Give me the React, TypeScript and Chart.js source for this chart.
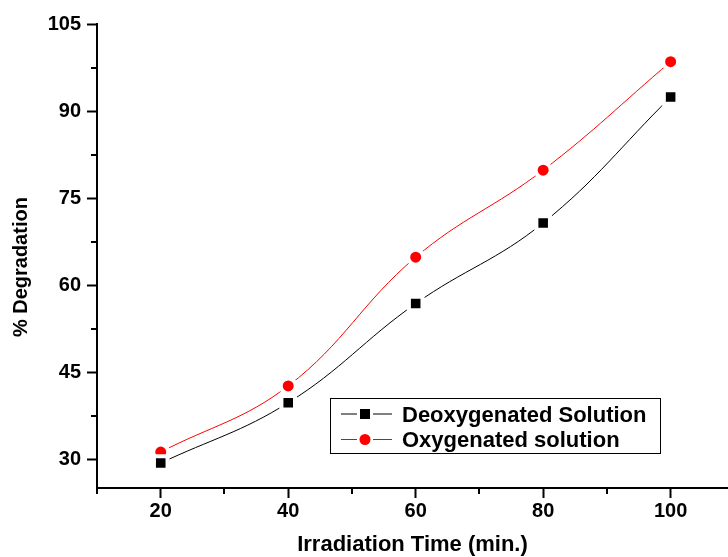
import { useEffect, useRef } from "react";
import { Chart, registerables } from "chart.js";

Chart.register(...registerables);

// ---- data ----
const irradiationTime = [20, 40, 60, 80, 100];
const deoxygenated = [29.3, 39.7, 56.8, 70.7, 92.4];
const oxygenated = [31.2, 42.6, 64.8, 79.8, 98.5];
const seriesNames = ["Deoxygenated Solution", "Oxygenated solution"];
const xMajorTicks = [20, 40, 60, 80, 100];
const xMinorTicks = [10, 30, 50, 70, 90];
const yMajorTicks = [30, 45, 60, 75, 90, 105];
const yMinorTicks = [37.5, 52.5, 67.5, 82.5, 97.5];

const FONT = "'Liberation Sans', Arial, Helvetica, sans-serif";

const minorTicksPlugin = {
  id: "minorTicks",
  afterDraw(chart: any) {
    const { ctx, scales } = chart;
    const xs = scales.x;
    const ys = scales.y;
    ctx.save();
    ctx.strokeStyle = "#000";
    ctx.lineWidth = 2;
    ctx.beginPath();
    for (const v of xMinorTicks) {
      const px = Math.round(xs.getPixelForValue(v));
      ctx.moveTo(px, ys.bottom);
      ctx.lineTo(px, ys.bottom + 6);
    }
    for (const v of yMinorTicks) {
      const py = Math.round(ys.getPixelForValue(v));
      ctx.moveTo(xs.left, py);
      ctx.lineTo(xs.left - 6, py);
    }
    ctx.stroke();
    ctx.restore();
  },
};

const boxLegendPlugin = {
  id: "boxLegend",
  afterDraw(chart: any) {
    const { ctx } = chart;
    const left = 330;
    const top = 398;
    const w = 330;
    const h = 55;
    ctx.save();
    ctx.fillStyle = "#fff";
    ctx.fillRect(left, top, w, h);
    ctx.strokeStyle = "#000";
    ctx.lineWidth = 1;
    ctx.strokeRect(left + 0.5, top + 0.5, w, h);
    const rows = [414, 439.5];
    chart.data.datasets.forEach((ds: any, i: number) => {
      const y = rows[i];
      const cx = 365;
      ctx.strokeStyle = ds.borderColor;
      ctx.lineWidth = 1;
      ctx.beginPath();
      ctx.moveTo(341, y);
      ctx.lineTo(cx - 8, y);
      ctx.moveTo(cx + 8, y);
      ctx.lineTo(392, y);
      ctx.stroke();
      ctx.fillStyle = ds.pointBackgroundColor;
      if (ds.pointStyle === "rect") {
        ctx.fillRect(cx - 5, y - 5, 10, 10);
      } else {
        ctx.beginPath();
        ctx.arc(cx, y, 5.5, 0, Math.PI * 2);
        ctx.fill();
      }
      ctx.fillStyle = "#000";
      ctx.font = `bold 22px ${FONT}`;
      ctx.textBaseline = "alphabetic";
      ctx.textAlign = "left";
      ctx.fillText(ds.label, 402, y + 7.5);
    });
    ctx.restore();
  },
};

export default function App() {
  const ref = useRef<HTMLCanvasElement | null>(null);

  useEffect(() => {
    if (!ref.current) return;
    const chart = new Chart(ref.current, {
      type: "line",
      data: {
        datasets: [
          {
            label: seriesNames[0],
            data: irradiationTime.map((x, i) => ({ x, y: deoxygenated[i] })),
            borderColor: "#000000",
            borderWidth: 1,
            pointStyle: "rect",
            pointRadius: 9.6,
            pointBackgroundColor: "#000000",
            pointBorderColor: "#ffffff",
            pointBorderWidth: 4,
            tension: 0.4,
            fill: false,
          },
          {
            label: seriesNames[1],
            data: irradiationTime.map((x, i) => ({ x, y: oxygenated[i] })),
            borderColor: "#ff0000",
            borderWidth: 1,
            pointStyle: "circle",
            pointRadius: 7.5,
            pointBackgroundColor: "#ff0000",
            pointBorderColor: "#ffffff",
            pointBorderWidth: 4,
            tension: 0.4,
            fill: false,
          },
        ],
      },
      options: {
        responsive: false,
        maintainAspectRatio: false,
        animation: false,
        devicePixelRatio: 1,
        layout: { autoPadding: false, padding: { top: 24, right: 0, bottom: 0, left: 0 } },
        plugins: {
          legend: { display: false },
          tooltip: { enabled: false },
        },
        scales: {
          x: {
            type: "linear",
            min: 10,
            max: 109,
            afterBuildTicks: (s: any) => {
              s.ticks = xMajorTicks.map((v) => ({ value: v }));
            },
            afterFit: (s: any) => {
              s.height = 69;
              s.paddingRight = 0;
              s.paddingLeft = 0;
            },
            grid: {
              drawOnChartArea: false,
              drawTicks: true,
              tickLength: 10,
              tickWidth: 2,
              tickColor: "#000",
            },
            border: { display: true, color: "#000", width: 2 },
            ticks: {
              color: "#000",
              font: { family: FONT, size: 20, weight: "bold" },
              padding: 1,
              maxRotation: 0,
              autoSkip: false,
            },
            title: {
              display: true,
              text: "Irradiation Time (min.)",
              color: "#000",
              font: { family: FONT, size: 22, weight: "bold" },
              padding: { top: 0, bottom: -1 },
            },
          },
          y: {
            type: "linear",
            min: 25,
            max: 105,
            afterBuildTicks: (s: any) => {
              s.ticks = yMajorTicks.map((v) => ({ value: v }));
            },
            afterFit: (s: any) => {
              s.width = 97;
            },
            grid: {
              drawOnChartArea: false,
              drawTicks: true,
              tickLength: 10,
              tickWidth: 2,
              tickColor: "#000",
            },
            border: { display: true, color: "#000", width: 2 },
            ticks: {
              color: "#000",
              font: { family: FONT, size: 20, weight: "bold" },
              padding: 6,
              autoSkip: false,
            },
            title: {
              display: true,
              text: "% Degradation    ",
              color: "#000",
              font: { family: FONT, size: 20, weight: "bold" },
              padding: { top: 9, bottom: 0 },
            },
          },
        },
      },
      plugins: [minorTicksPlugin, boxLegendPlugin],
    } as any);
    return () => chart.destroy();
  }, []);

  return (
    <div style={{ position: "fixed", left: 0, top: 0, width: 728, height: 557, background: "#fff" }}>
      <canvas ref={ref} width={728} height={557} style={{ display: "block", width: 728, height: 557 }} />
    </div>
  );
}
